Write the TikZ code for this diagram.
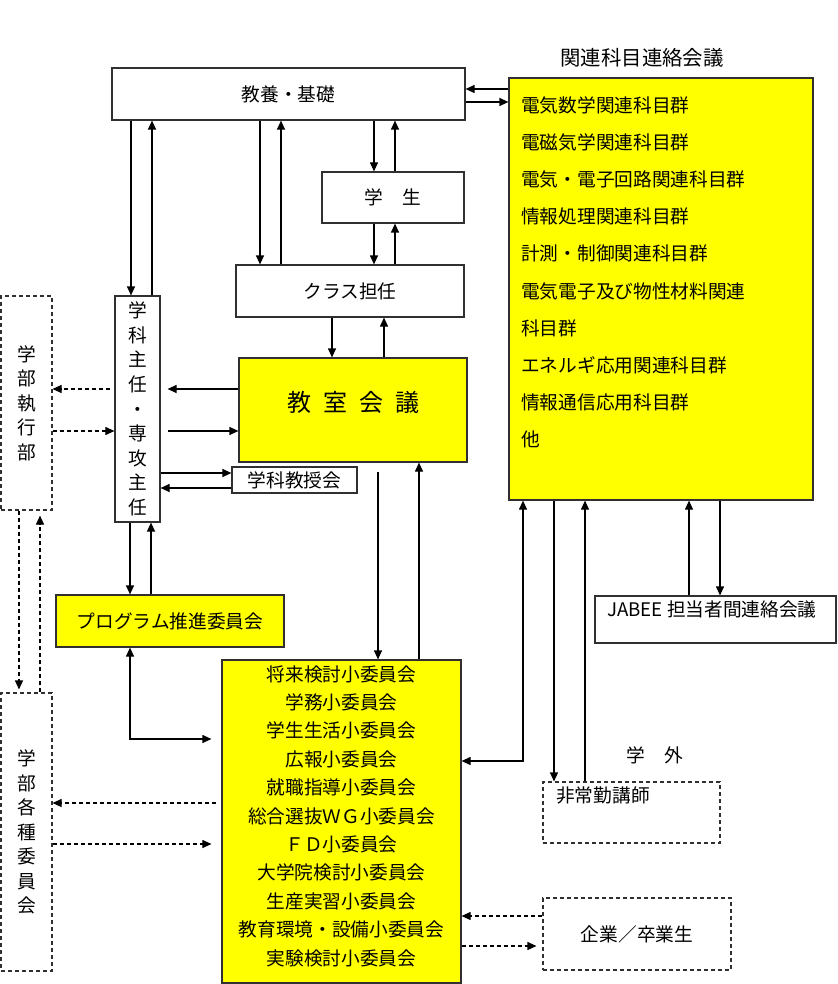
\documentclass[tikz,border=0pt]{standalone}
\usepackage{fontspec}
\setmainfont{Noto Sans CJK JP}
\usepackage{tikz}
\usetikzlibrary{arrows.meta,positioning,calc}
\definecolor{boxYellow}{HTML}{FFFF00}
\definecolor{lineGray}{HTML}{303030}

\begin{document}
\begin{tikzpicture}[x=1pt, y=-1pt, >={Triangle[length=9pt,width=8pt]},
  font=\fontsize{18.7}{22}\selectfont,
  box/.style={draw=lineGray, line width=1.2pt, inner sep=0pt},
  ybox/.style={box, fill=boxYellow},
  dbox/.style={draw=lineGray, line width=1.1pt, dash pattern=on 4pt off 3pt, inner sep=0pt},
  link/.style={->, line width=1.2pt},
  dlink/.style={->, line width=1.1pt, dash pattern=on 4pt off 3pt}]
\useasboundingbox (0,0) rectangle (837,984);
% boxes
\node[box, minimum width=353pt, minimum height=52pt] (kyoyo) at (288.5,94) {教養・基礎};
\node[box, minimum width=142pt, minimum height=51pt] (gakusei) at (393,197.5) {学　生};
\node[box, minimum width=228pt, minimum height=52pt] (tannin) at (350,291) {クラス担任};
\node[box, minimum width=45pt, minimum height=226pt, align=center,
  font=\fontsize{18.7}{24.6}\selectfont] (shunin) at (137.5,409) {学\\科\\主\\任\\・\\専\\攻\\主\\任};
\node[dbox, minimum width=51pt, minimum height=214pt, align=center,
  font=\fontsize{18.7}{24.5}\selectfont] (shikkou) at (26.5,403) {学\\部\\執\\行\\部};
\node[ybox, minimum width=228pt, minimum height=104pt] (kyoshitsu) at (353,410) {};
\node[font=\fontsize{24}{28}\selectfont, inner sep=0pt] (kyoshitsutext)
  at ([yshift=8pt]kyoshitsu.center) {教\hspace{.5em}室\hspace{.5em}会\hspace{.5em}議};
\node[box, minimum width=125pt, minimum height=26pt] (kyoju) at (294.5,480) {学科教授会};
\node[ybox, minimum width=228pt, minimum height=52pt] (program) at (170,621) {プログラム推進委員会};
\node[ybox, minimum width=239pt, minimum height=323pt] (iinkai) at (341.5,821.5) {};
\node[align=center, inner sep=0pt, font=\fontsize{18.7}{28.4}\selectfont] (iinkailist)
  at ([yshift=5.5pt]iinkai.center)
  {将来検討小委員会\\学務小委員会\\学生生活小委員会\\広報小委員会\\就職指導小委員会\\
   総合選抜ＷＧ小委員会\\ＦＤ小委員会\\大学院検討小委員会\\生産実習小委員会\\
   教育環境・設備小委員会\\実験検討小委員会};
\node[dbox, minimum width=51pt, minimum height=278pt, align=center,
  font=\fontsize{18.7}{24.5}\selectfont] (kakushu) at (26.5,832) {学\\部\\各\\種\\委\\員\\会};
% 関連科目連絡会議
\node[font=\fontsize{20.4}{24}\selectfont] (kanrentitle) at (642,58) {関連科目連絡会議};
\node[ybox, minimum width=304pt, minimum height=422pt] (kanren) at (661,289) {};
\foreach \txt [count=\i from 0] in {電気数学関連科目群, 電磁気学関連科目群,
    電気・電子回路関連科目群, 情報処理関連科目群, 計測・制御関連科目群,
    電気電子及び物性材料関連, 科目群, エネルギ応用関連科目群, 情報通信応用科目群, 他}
  \node[anchor=west, inner sep=0pt] (kanren\i) at (521,{105+37.2*\i}) {\txt};
% 学外
\node[box, minimum width=241pt, minimum height=47pt] (jabee) at (715.5,619.5) {};
\node[anchor=west, inner sep=0pt] (jabeetext) at (607,609) {JABEE 担当者間連絡会議};
\node (gakugai) at (655,755) {学　外};
\node[dbox, minimum width=177pt, minimum height=61pt] (hijokin) at (631.5,812.5) {};
\node[anchor=west, inner sep=0pt] (hijokintext) at (556,795) {非常勤講師};
\node[dbox, minimum width=188pt, minimum height=72pt] (kigyo) at (637,934) {企業／卒業生};

% 教養・基礎 <-> 関連科目
\draw[link] (kanren.west |- 0,89) -- (kyoyo.east |- 0,89);
\draw[link] (kyoyo.east |- 0,102) -- (kanren.west |- 0,102);
% 教養・基礎 <-> 学科主任, クラス担任
\draw[link] (kyoyo.south -| 131,0) -- (shunin.north -| 131,0);
\draw[link] (shunin.north -| 152,0) -- (kyoyo.south -| 152,0);
\draw[link] (kyoyo.south -| 260,0) -- (tannin.north -| 260,0);
\draw[link] (tannin.north -| 281,0) -- (kyoyo.south -| 281,0);
% 教養・基礎 <-> 学生 <-> クラス担任
\foreach \a/\b in {kyoyo/gakusei, gakusei/tannin} {
  \draw[link] (\a.south -| 374,0) -- (\b.north -| 374,0);
  \draw[link] (\b.north -| 395,0) -- (\a.south -| 395,0);
}
% クラス担任 <-> 教室会議
\draw[link] (tannin.south -| 332,0) -- (kyoshitsu.north -| 332,0);
\draw[link] (kyoshitsu.north -| 384,0) -- (tannin.south -| 384,0);
% 教室会議 <-> 学科主任
\draw[link] (kyoshitsu.west |- 0,389) -- ($(shunin.east |- 0,389)+(7,0)$);
\draw[link] ($(shunin.east |- 0,431)+(7,0)$) -- (kyoshitsu.west |- 0,431);
% 学科主任 <-> 学部執行部
\draw[dlink] ($(shunin.west |- 0,389)+(-4,0)$) -- (shikkou.east |- 0,389);
\draw[dlink] (shikkou.east |- 0,431) -- (shunin.west |- 0,431);
% 学科主任 <-> 学科教授会
\draw[link] (shunin.east |- 0,473) -- (kyoju.west |- 0,473);
\draw[link] (kyoju.west |- 0,488) -- (shunin.east |- 0,488);
% 学科主任 <-> プログラム推進委員会
\draw[link] (shunin.south -| 130,0) -- (program.north -| 130,0);
\draw[link] (program.north -| 151,0) -- (shunin.south -| 151,0);
% 教室会議 <-> 小委員会
\draw[link] ($(kyoshitsu.south -| 378,0)+(0,9)$) -- (iinkai.north -| 378,0);
\draw[link] (iinkai.north -| 419,0) -- (kyoshitsu.south -| 419,0);
% プログラム推進委員会 <-> 小委員会
\draw[<->, line width=1.2pt] (program.south -| 130,0) |- ($(iinkai.west |- 0,739)+(-10,0)$);
% 小委員会 <-> 学部各種委員会
\draw[dlink] ($(iinkai.west |- 0,803)+(-5,0)$) -- (kakushu.east |- 0,803);
\draw[dlink] (kakushu.east |- 0,844) -- ($(iinkai.west |- 0,844)+(-10,0)$);
% 学部執行部 <-> 学部各種委員会
\draw[dlink] (shikkou.south -| 19,0) -- ($(kakushu.north -| 19,0)+(0,-3)$);
\draw[dlink] (kakushu.north -| 40,0) -- ($(shikkou.south -| 40,0)+(0,5)$);
% 関連科目 <-> 小委員会, 非常勤講師, JABEE
\draw[<->, line width=1.2pt] (kanren.south -| 523,0) |- (iinkai.east |- 0,761);
\draw[link] (kanren.south -| 554,0) -- (hijokin.north -| 554,0);
\draw[link] (hijokin.north -| 585,0) -- (kanren.south -| 585,0);
\draw[link] (jabee.north -| 689,0) -- (kanren.south -| 689,0);
\draw[link] (kanren.south -| 720,0) -- (jabee.north -| 720,0);
% 企業／卒業生 <-> 小委員会
\draw[dlink] (kigyo.west |- 0,916) -- (iinkai.east |- 0,916);
\draw[dlink] (iinkai.east |- 0,946) -- ($(kigyo.west |- 0,946)+(-6,0)$);
\end{tikzpicture}
\end{document}
